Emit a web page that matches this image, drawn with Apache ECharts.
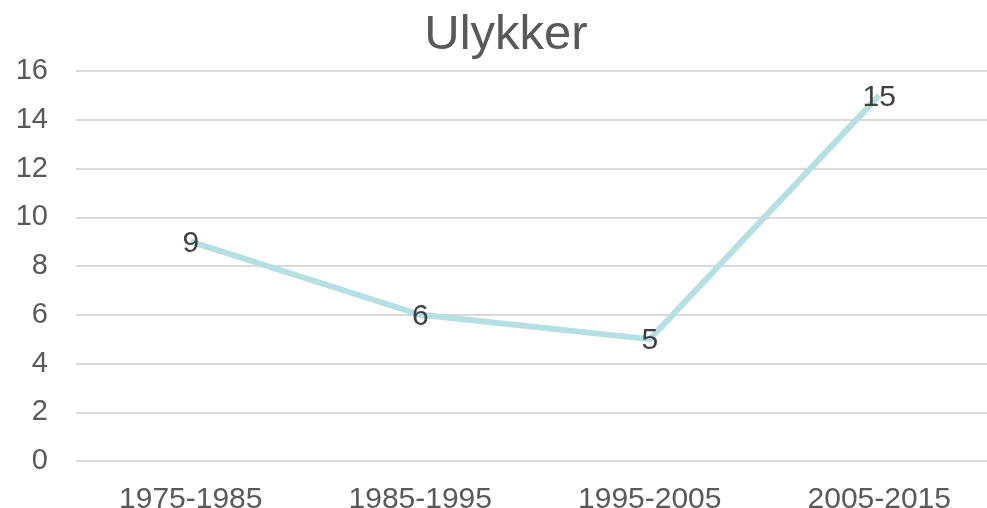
<!DOCTYPE html>
<html><head><meta charset="utf-8">
<script src="https://cdn.jsdelivr.net/npm/echarts@6/dist/echarts.min.js"></script>
<style>html,body{margin:0;padding:0;background:#fff}#c{width:987px;height:508px}</style>
</head><body><div id="c"></div>
<script>
const categories = ['1975-1985','1985-1995','1995-2005','2005-2015'];
const values = [9, 6, 5, 15];
const titleText = 'Ulykker';
const chart = echarts.init(document.getElementById('c'));
chart.setOption({
  animation: false,
  title: {text: titleText, left: 501, top: 6, textAlign: 'center',
    textStyle: {fontFamily: 'Liberation Sans, Arial', fontSize: 49, fontWeight: 'normal', color: '#595959'}},
  grid: {left: 76, top: 71, right: -7, height: 390, containLabel: false, outerBoundsMode: 'none'},
  xAxis: {type: 'category', data: categories, boundaryGap: true,
    axisLine: {show: false}, axisTick: {show: false},
    axisLabel: {fontFamily: 'Liberation Sans, Arial', fontSize: 30, color: '#595959', margin: 24}},
  yAxis: {type: 'value', min: 0, max: 16, interval: 2,
    axisLine: {show: false}, axisTick: {show: false},
    axisLabel: {fontFamily: 'Liberation Sans, Arial', fontSize: 29, color: '#595959', margin: 28},
    splitLine: {lineStyle: {color: '#d9d9d9', width: 2}}},
  series: [{type: 'line', data: values, symbol: 'circle', symbolSize: 1, showSymbol: true,
    lineStyle: {color: '#b4e0e4', width: 6},
    itemStyle: {color: 'rgba(0,0,0,0)'},
    label: {show: true, position: 'inside', offset: [0, 2], fontFamily: 'Liberation Sans, Arial', fontSize: 30, color: '#404040'}}]
});
</script></body></html>
